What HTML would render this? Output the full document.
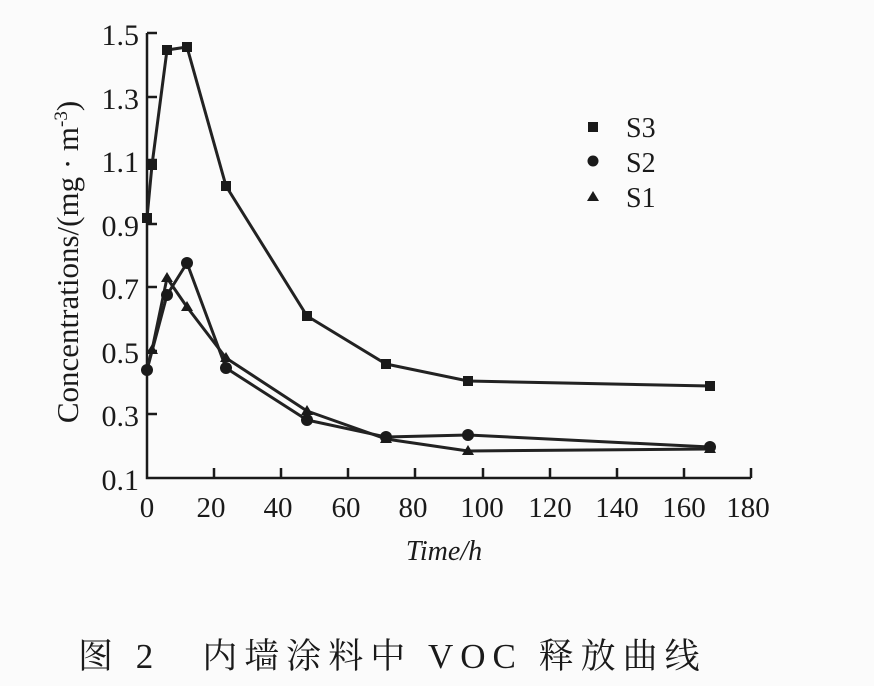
<!DOCTYPE html>
<html><head><meta charset="utf-8"><style>
html,body{margin:0;padding:0;background:#fbfbfb;}
svg{display:block}
</style></head><body>
<svg width="874" height="686" viewBox="0 0 874 686" xmlns="http://www.w3.org/2000/svg">
<rect width="874" height="686" fill="#fbfbfb"/>
<g stroke="#1a1a1a" stroke-width="2.5" fill="none">
<path d="M147 33 V478 H751"/>
<path d="M147 33 H157 M147 97 H157 M147 160 H157 M147 224 H157 M147 287 H157 M147 351 H157 M147 414 H157"/>
<path d="M214 478 V468 M281 478 V468 M348 478 V468 M415 478 V468 M483 478 V468 M550 478 V468 M617 478 V468 M684 478 V468 M751 478 V468"/>
</g>
<g stroke="#222" stroke-width="3" fill="none" stroke-linejoin="round">
<polyline points="147,218 152,165 167,50 187,47 226,186 307,316 386,364 468,381 710,386"/>
<polyline points="147,370 167,295 187,263 226,368 307,420 386,437 468,435 710,447"/>
<polyline points="147,368 152,350 167,278 187,307 226,358 307,411 386,439 468,451 710,449"/>
</g>
<g fill="#1a1a1a">
<rect x="142" y="213" width="10" height="10"/><rect x="147" y="160" width="10" height="10"/><rect x="162" y="45" width="10" height="10"/><rect x="182" y="42" width="10" height="10"/><rect x="221" y="181" width="10" height="10"/><rect x="302" y="311" width="10" height="10"/><rect x="381" y="359" width="10" height="10"/><rect x="463" y="376" width="10" height="10"/><rect x="705" y="381" width="10" height="10"/>
<circle cx="147" cy="370" r="6"/><circle cx="167" cy="295" r="6"/><circle cx="187" cy="263" r="6"/><circle cx="226" cy="368" r="6"/><circle cx="307" cy="420" r="6"/><circle cx="386" cy="437" r="6"/><circle cx="468" cy="435" r="6"/><circle cx="710" cy="447" r="6"/>
<path d="M152 344l6 10h-12z M167 272l6 10h-12z M187 301l6 10h-12z M226 352l6 10h-12z M307 405l6 10h-12z M386 433l6 10h-12z M468 445l6 10h-12z M710 443l6 10h-12z"/>
<rect x="588" y="122" width="10" height="10"/><circle cx="593" cy="161" r="5.5"/><path d="M593 191l6 10h-12z"/>
</g>
<g font-family="Liberation Serif, serif" font-size="30" fill="#1a1a1a" text-anchor="end">
<text x="139" y="45">1.5</text><text x="139" y="109">1.3</text><text x="139" y="172">1.1</text><text x="139" y="236">0.9</text><text x="139" y="299">0.7</text><text x="139" y="363">0.5</text><text x="139" y="426">0.3</text><text x="139" y="490">0.1</text>
</g>
<g font-family="Liberation Serif, serif" font-size="29" fill="#1a1a1a" text-anchor="middle">
<text x="147" y="517">0</text><text x="211" y="517">20</text><text x="278" y="517">40</text><text x="346" y="517">60</text><text x="413" y="517">80</text><text x="482" y="517">100</text><text x="550" y="517">120</text><text x="617" y="517">140</text><text x="684" y="517">160</text><text x="748" y="517">180</text>
<text x="444" y="560" font-style="italic" font-size="28">Time/h</text>
</g>
<g font-family="Liberation Serif, serif" font-size="28" fill="#1a1a1a">
<text x="626" y="137">S3</text><text x="626" y="172">S2</text><text x="626" y="207">S1</text>
</g>
<text transform="translate(78,262) rotate(-90)" font-family="Liberation Serif, serif" font-size="31" fill="#1a1a1a" text-anchor="middle">Concentrations/(mg · m<tspan dy="-11" font-size="19">-3</tspan><tspan dy="11">)</tspan></text>
<text x="78" y="668" font-family="Liberation Serif, 'Noto Serif CJK SC', serif" font-size="35" letter-spacing="7" fill="#1a1a1a">图 2　内墙涂料中 VOC 释放曲线</text>
</svg>
</body></html>
